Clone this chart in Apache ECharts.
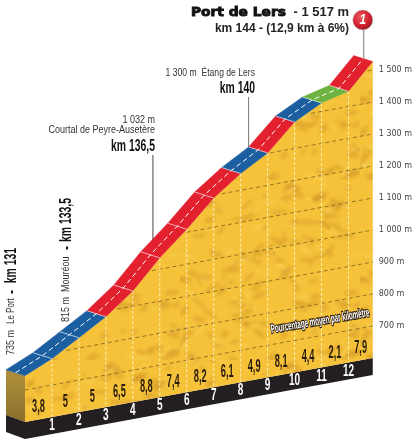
<!DOCTYPE html>
<html><head><meta charset="utf-8">
<style>html,body{margin:0;padding:0;background:#fff}#c{width:415px;height:440px}</style>
<script src="https://cdn.jsdelivr.net/npm/echarts@6/dist/echarts.min.js"></script>
</head><body><div id="c"></div>
<script>
// --- data ---
const kmMarks    = [0,1,2,3,4,5,6,7,8,9,10,11,12,12.9];
const elevations = [735,773,823,873,938,1026,1100,1182,1243,1292,1373,1417,1438,1517];
const grades     = ['3,8','5','5','6,5','8,8','7,4','8,2','6,1','4,9','8,1','4,4','2,1','7,9'];
const kmLabels   = ['1','2','3','4','5','6','7','8','9','10','11','12'];
const segColors  = ['#1b5fa0','#1b5fa0','#1b5fa0','#e3202e','#e3202e','#e3202e','#e3202e','#e3202e','#1b5fa0','#e3202e','#1b5fa0','#6cb33f','#e3202e'];
const gridLevels = [700,800,900,1000,1100,1200,1300,1400,1500];
const baseTop = 600, baseBottom = 547, tiltPerKm = 15.5;
const endKm = 12.9;

const chart = echarts.init(document.getElementById('c'),null,{renderer:'canvas'});

// decorative paper-relief texture for the terrain (deterministic)
function texture(){
  const s=180,c=document.createElement('canvas');c.width=c.height=s;
  const g=c.getContext('2d');g.fillStyle='#f5c23a';g.fillRect(0,0,s,s);
  g.filter='blur(1.4px)';
  for(let i=0;i<190;i++){
    const x=(i*73.7+Math.sin(i*1.7)*40+s)%s, y=(i*41.3+Math.cos(i*2.3)*50+s)%s;
    const w=2+((i*7)%8), h=1+((i*5)%3);
    g.save();g.translate(x,y);g.rotate(-0.8+((i*3)%5)*0.35);
    g.fillStyle=i%3===0?'rgba(255,224,110,0.55)':'rgba(196,130,30,0.30)';
    g.beginPath();g.ellipse(0,0,w,h,0,0,Math.PI*2);g.fill();g.restore();
  }
  return c;
}
const tex = texture();

function kmAtLevel(L){
  for(let i=0;i<elevations.length-1;i++){
    if(L<=elevations[i+1]&&L>=elevations[i]){return kmMarks[i]+(L-elevations[i])/(elevations[i+1]-elevations[i])*(kmMarks[i+1]-kmMarks[i]);}
  }
  return L<elevations[0]?0:endKm;
}
const LIFT=3, OX=-19, OY=-6;
function txt(x,y,text,o){
  o=o||{};
  return {type:'text',x,y,scaleX:o.sx||1,scaleY:o.sy||1,rotation:o.rot||0,silent:true,
    style:{text,font:o.font||'12px "Liberation Sans"',fill:o.color||'#222',align:o.align||'left',verticalAlign:'middle',
      stroke:o.stroke||null,lineWidth:o.sw||0}};
}
const NB='bold 13px "Liberation Sans"', NL='10px "Liberation Sans"';

function renderItem(params,api){
  const P=(km,e)=>api.coord([km,e-(endKm-km)*tiltPerKm]);
  const L=(km,e)=>{const p=P(km,e);return [p[0],p[1]-LIFT];};
  const U=(km,e)=>{const p=L(km,e);return [p[0]+OX,p[1]+OY];};
  const ch=[];
  const n=kmMarks.length;
  // left block
  const l0=L(0,elevations[0]),u0=U(0,elevations[0]),bt0=P(0,baseTop),bb0=P(0,baseBottom);
  ch.push({type:'polygon',shape:{points:[u0,l0,bt0,[bt0[0]+OX,bt0[1]-7]]},style:{fill:{type:'linear',x:0,y:0,x2:0,y2:1,colorStops:[{offset:0,color:'#b0923c'},{offset:1,color:'#8b6f2c'}]}}});
  ch.push({type:'polygon',shape:{points:[[bt0[0]+OX,bt0[1]-7],bt0,bb0,[bb0[0]+OX,bb0[1]-7]]},style:{fill:'#231f20'}});
  // black base
  ch.push({type:'polygon',shape:{points:[bt0,P(endKm,baseTop),P(endKm,baseBottom),bb0]},style:{fill:'#231f20'}});
  // terrain
  const terr=[bt0];
  for(let i=0;i<n;i++)terr.push(L(kmMarks[i],elevations[i]));
  terr.push(P(endKm,baseTop));
  ch.push({type:'polygon',shape:{points:terr},style:{fill:{image:tex,repeat:'repeat'}}});
  // grid lines
  gridLevels.forEach(v=>{
    const k=kmAtLevel(v);
    const a=P(k,v);
    ch.push({type:'line',shape:{x1:a[0],y1:a[1],x2:P(endKm,v)[0],y2:P(endKm,v)[1]},style:{stroke:'#7d5f1c',lineWidth:0.8,lineDash:[4,3]}});
  });
  // km verticals
  for(let i=1;i<n-1;i++){
    const a=L(kmMarks[i],elevations[i]),b=P(kmMarks[i],baseTop);
    ch.push({type:'line',shape:{x1:a[0],y1:a[1],x2:b[0],y2:b[1]},style:{stroke:'#fff3c4',lineWidth:0.9,lineDash:[3,2]}});
  }
  // road
  for(let i=0;i<n-1;i++){
    const a=kmMarks[i],b=kmMarks[i+1],ea=elevations[i],eb=elevations[i+1];
    ch.push({type:'polygon',shape:{points:[U(a,ea),U(b,eb),L(b,eb),L(a,ea)]},style:{fill:segColors[i],stroke:segColors[i],lineWidth:0.4}});
  }
  // road ticks and centre line
  for(let i=1;i<n-1;i++){
    const a=U(kmMarks[i],elevations[i]),b=L(kmMarks[i],elevations[i]);
    ch.push({type:'line',shape:{x1:a[0],y1:a[1],x2:b[0],y2:b[1]},style:{stroke:'rgba(255,255,255,0.75)',lineWidth:0.8}});
  }
  const mid=[];
  for(let i=0;i<n;i++){const a=U(kmMarks[i],elevations[i]),b=L(kmMarks[i],elevations[i]);mid.push([(a[0]+b[0])/2,(a[1]+b[1])/2]);}
  ch.push({type:'polyline',shape:{points:mid},style:{stroke:'#fff',lineWidth:1,lineDash:[5,3],fill:null}});
  // grade labels
  grades.forEach((g,i)=>{
    const k=(kmMarks[i]+kmMarks[i+1])/2;const p=P(k,baseTop);
    ch.push(txt(p[0],p[1]-12.5,g,{font:'bold 14px "Liberation Sans"',color:'#2a1c0c',align:'center',sx:0.66,sy:1.32}));
  });
  // km numbers
  kmLabels.forEach((t,i)=>{
    const k=kmMarks[i+1];const p=P(k,(baseTop+baseBottom)/2);
    ch.push(txt(p[0],p[1],t,{font:'bold 14px "Liberation Sans"',color:'#fff',align:'center',sx:0.72,sy:1.2}));
  });
  // caption on terrain
  const cp=P(10.95,745);
  ch.push(txt(cp[0],cp[1],'Pourcentage moyen par kilomètre',{font:'bold 10px "Liberation Sans"',color:'#fff',align:'center',sx:0.62,sy:1.2,rot:0.17,stroke:'#2a1c0c',sw:2}));
  // callout lines: each ends on the road's upper edge
  const c1=U(5.45,1058);
  ch.push({type:'line',shape:{x1:c1[0],y1:155,x2:c1[0],y2:c1[1]},style:{stroke:'#333',lineWidth:0.9}});
  const c2=U(9,elevations[9]);
  ch.push({type:'line',shape:{x1:c2[0],y1:97,x2:c2[0],y2:c2[1]},style:{stroke:'#777',lineWidth:1}});
  const c3=U(endKm,elevations[13]);
  ch.push({type:'line',shape:{x1:c3[0]+10,y1:28,x2:c3[0]+10,y2:c3[1]+3},style:{stroke:'#777',lineWidth:1}});
  // finish ball
  const bx=c3[0]+9,by=20;
  ch.push({type:'circle',shape:{cx:bx,cy:by,r:10},style:{fill:{type:'radial',x:0.4,y:0.35,r:0.7,colorStops:[{offset:0,color:'#ee5a60'},{offset:0.6,color:'#d42030'},{offset:1,color:'#8e1420'}]},stroke:'#b9b9b9',lineWidth:0.6}});
  ch.push(txt(bx,by,'1',{font:'italic bold 14px "Liberation Sans"',color:'#fff',align:'center',sx:0.85,sy:1.05}));
  // title
  ch.push(txt(191,13,'Port de Lers',{font:'bold 13px "DejaVu Sans"',color:'#111',sx:1.06,sy:1,stroke:'#111',sw:0.9}));
  ch.push(txt(349,13,'- 1 517 m',{font:'bold 12px "Liberation Sans"',color:'#222',align:'right',sx:1.08}));
  ch.push(txt(349,29,'km 144 - (12,9 km à 6%)',{font:'bold 12px "Liberation Sans"',color:'#222',align:'right',sx:1.0,sy:1.05}));
  // Etang
  ch.push(txt(255,73,'1 300 m  Étang de Lers',{font:NL,color:'#333',align:'right',sx:0.86,sy:1.05}));
  ch.push(txt(255,88,'km 140',{font:NB,color:'#111',align:'right',sx:0.8,sy:1.3}));
  // Courtal
  ch.push(txt(155,120,'1 032 m',{font:NL,color:'#333',align:'right',sx:0.9,sy:1.05}));
  ch.push(txt(155,130,'Courtal de Peyre-Ausetère',{font:NL,color:'#333',align:'right',sx:0.9,sy:1.05}));
  ch.push(txt(155,146,'km 136,5',{font:NB,color:'#111',align:'right',sx:0.8,sy:1.3}));
  // rotated labels
  const R=Math.PI/2;
  ch.push(txt(11,355,'735 m',{font:NL,color:'#333',sx:0.9,sy:1.05,rot:R}));
  ch.push(txt(11,324,'Le Port',{font:NL,color:'#333',sx:0.8,sy:1.05,rot:R}));
  ch.push(txt(11,292,'-',{font:NB,color:'#111',align:'center',sx:0.9,sy:1.3,rot:R}));
  ch.push(txt(11,248,'km 131',{font:NB,color:'#111',align:'right',sx:0.8,sy:1.3,rot:R}));
  ch.push(txt(66,322,'815 m',{font:NL,color:'#333',sx:0.9,sy:1.05,rot:R}));
  ch.push(txt(66,292,'Mouréou',{font:NL,color:'#333',sx:0.9,sy:1.05,rot:R}));
  ch.push(txt(66,248,'-',{font:NB,color:'#111',align:'center',sx:0.9,sy:1.3,rot:R}));
  ch.push(txt(66,198,'km 133,5',{font:NB,color:'#111',align:'right',sx:0.8,sy:1.3,rot:R}));
  return {type:'group',children:ch};
}

chart.setOption({
  animation:false,
  backgroundColor:'#fff',
  grid:{left:25,top:6,width:353,height:416},
  xAxis:{type:'value',min:0,max:endKm,show:false},
  yAxis:{type:'value',position:'right',min:400,max:1700,interval:100,
    axisLine:{show:false},axisTick:{show:false},splitLine:{show:false},
    axisLabel:{show:true,margin:6,color:'#444',fontFamily:'DejaVu Sans',fontSize:8,
      formatter:v=>gridLevels.includes(v)?(v>=1000?String(v).replace(/^(\d)/,'$1 '):v)+' m':''}},
  series:[{type:'custom',coordinateSystem:'cartesian2d',clip:false,silent:true,
    data:[[0,elevations[0]]],encode:{x:0,y:1},renderItem}]
});
</script></body></html>
